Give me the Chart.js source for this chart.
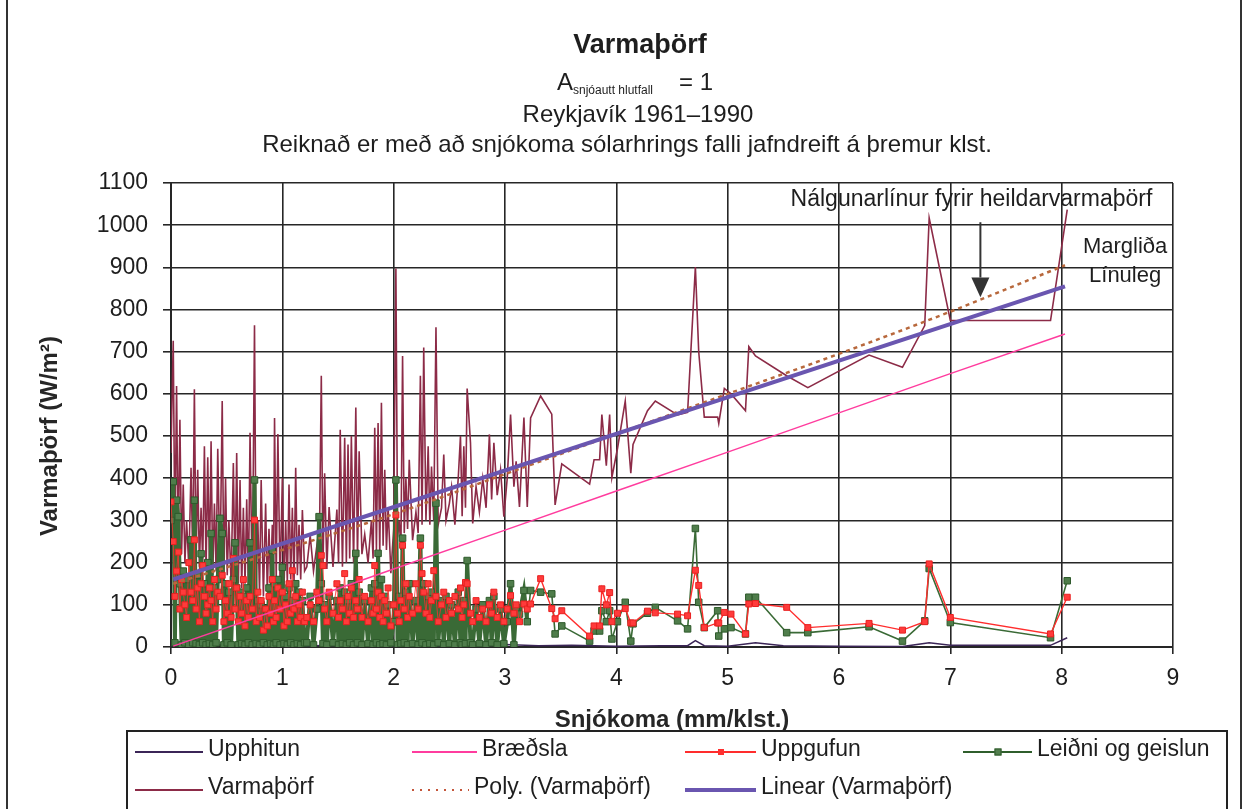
<!DOCTYPE html>
<html lang="is">
<head>
<meta charset="utf-8">
<title>Varmaþörf</title>
<script src="https://cdn.jsdelivr.net/npm/chart.js@4.4.1/dist/chart.umd.min.js"></script>
<style>
  html, body { margin: 0; padding: 0; background: #fff; }
  body {
    width: 1246px; height: 809px; position: relative; overflow: hidden;
    font-family: "Liberation Sans", Arial, sans-serif; color: #1e1e1e;
  }
  #frame {
    position: absolute; left: 6px; top: -10px; width: 1232px; height: 840px;
    border-left: 2px solid #333; border-right: 2px solid #333;
  }
  canvas { position: absolute; left: 0; top: 0; }
  .t { position: absolute; white-space: nowrap; line-height: 1; transform: translateX(-50%); }
  #title { top: 31px; left: 640px; font-size: 27px; font-weight: bold; }
  #sub1 { top: 70px; left: 635px; font-size: 24px; }
  #sub1 sub { font-size: 12px; vertical-align: -4px; margin-right: 26px; }
  #sub2 { top: 102px; left: 638px; font-size: 24px; }
  #sub3 { top: 132px; left: 627px; font-size: 24px; }

  #legend {
    position: absolute; left: 126px; top: 730px; width: 1098px; height: 100px;
    border: 2px solid #222;
  }
  .li { position: absolute; height: 24px; display: flex; align-items: center; font-size: 23px; line-height: 24px; white-space: nowrap; }
  .sw { position: relative; display: inline-block; height: 2px; margin-right: 5px; top: 4px; }
  .mk { position: absolute; left: 50%; top: 50%; width: 6px; height: 6px; transform: translate(-50%, -50%); }
</style>
</head>
<body>
<div id="frame"></div>
<canvas id="chart" width="1246" height="809" style="width:1246px;height:809px"></canvas>

<div class="t" id="title">Varmaþörf</div>
<div class="t" id="sub1">A<sub>snjóautt hlutfall</sub>= 1</div>
<div class="t" id="sub2">Reykjavík 1961–1990</div>
<div class="t" id="sub3">Reiknað er með að snjókoma sólarhrings falli jafndreift á þremur klst.</div>

<div id="legend">
  <div class="li" style="left:7px;top:4px"><span class="sw" style="width:68px;background:#3b2557"></span>Upphitun</div>
  <div class="li" style="left:284px;top:4px"><span class="sw" style="width:65px;background:#ff3c9e"></span>Bræðsla</div>
  <div class="li" style="left:557px;top:4px"><span class="sw" style="width:71px;background:#ff2d2d"><span class="mk" style="background:#ff3030"></span></span>Uppgufun</div>
  <div class="li" style="left:835px;top:4px"><span class="sw" style="width:69px;background:#2f5e2c"><span class="mk" style="background:#527f4e;border:1px solid #2e5a2b;width:5px;height:5px"></span></span>Leiðni og geislun</div>
  <div class="li" style="left:7px;top:42px"><span class="sw" style="width:68px;background:#8c2b47"></span>Varmaþörf</div>
  <div class="li" style="left:284px;top:42px"><span class="sw" style="width:57px;background:repeating-linear-gradient(to right,#c4553a 0 2px,transparent 2px 8px)"></span>Poly. (Varmaþörf)</div>
  <div class="li" style="left:557px;top:42px"><span class="sw" style="width:71px;height:4px;background:#6a56b0"></span>Linear (Varmaþörf)</div>
</div>

<script>
// snowfall rate (mm/klst.) shared by Varmaþörf, Uppgufun and Leiðni og geislun
const snow = [
  // 0 - 1.2
  0.00, 0.02, 0.035, 0.05, 0.065, 0.08, 0.095, 0.11, 0.125, 0.14,
  0.16, 0.18, 0.195, 0.21, 0.225, 0.24, 0.255, 0.27, 0.285, 0.30,
  0.315, 0.33, 0.345, 0.36, 0.375, 0.39, 0.405, 0.42, 0.44, 0.46,
  0.475, 0.49, 0.505, 0.52, 0.54, 0.56, 0.575, 0.59, 0.605, 0.62,
  0.635, 0.65, 0.665, 0.68, 0.695, 0.71, 0.73, 0.75, 0.765, 0.78,
  0.795, 0.81, 0.83, 0.85, 0.865, 0.88, 0.895, 0.91, 0.92, 0.93,
  0.945, 0.96, 0.98, 1.00, 1.015, 1.03, 1.045, 1.06, 1.075, 1.09,
  1.105, 1.12, 1.135, 1.15, 1.165, 1.18, 1.20,
  // 1.2 - 3.2
  1.22, 1.25, 1.28, 1.31, 1.33, 1.35, 1.365, 1.38, 1.40, 1.42,
  1.455, 1.49, 1.505, 1.52, 1.54, 1.56, 1.575, 1.59, 1.605, 1.62,
  1.64, 1.66, 1.675, 1.69, 1.715, 1.74, 1.77, 1.80, 1.815, 1.83,
  1.845, 1.86, 1.875, 1.89, 1.905, 1.92, 1.935, 1.95, 1.975, 2.00,
  2.02, 2.035, 2.05, 2.065, 2.08, 2.095, 2.11, 2.125, 2.14, 2.17,
  2.20, 2.22, 2.24, 2.255, 2.27, 2.29, 2.31, 2.325, 2.34, 2.36,
  2.38, 2.40, 2.43, 2.45, 2.47, 2.50, 2.52, 2.55, 2.58, 2.60,
  2.615, 2.63, 2.645, 2.66, 2.69, 2.71, 2.74, 2.77, 2.80, 2.83,
  2.86, 2.88, 2.90, 2.93, 2.96, 2.99, 3.02, 3.05, 3.08, 3.10,
  3.13, 3.17, 3.20,
  // 3.2 - 8
  3.23, 3.32, 3.42, 3.45, 3.51, 3.76, 3.80, 3.85, 3.87, 3.91,
  3.94, 3.96, 4.01, 4.08, 4.13, 4.15, 4.28, 4.35, 4.55, 4.64,
  4.71, 4.74, 4.79, 4.91, 4.92, 4.97, 5.03, 5.16, 5.19, 5.25,
  5.53, 5.72, 6.27, 6.57, 6.77, 6.81, 7.00, 7.90, 8.05
];

const varma = [
  460, 726, 250, 619, 230, 539, 220, 385, 200, 300,
  190, 425, 210, 611, 200, 420, 190, 330, 200, 476,
  180, 450, 190, 488, 170, 340, 180, 470, 175, 583,
  160, 400, 170, 300, 150, 436, 160, 460, 150, 396,
  140, 330, 150, 350, 140, 508, 130, 763, 150, 300,
  130, 396, 120, 340, 130, 280, 150, 290, 140, 543,
  160, 505, 150, 400, 140, 300, 150, 385, 160, 330,
  150, 425, 170, 290, 160, 325, 180,
  190, 265, 180, 240, 175, 643, 190, 412, 185, 332,
  190, 326, 200, 515, 190, 496, 200, 480, 210, 500,
  200, 568, 210, 464, 220, 267, 200, 300, 210, 520,
  230, 531, 220, 579, 240, 420, 230, 332, 175, 280,
  897, 260, 300, 230, 690, 270, 400, 280, 444, 253,
  320, 270, 643, 290, 710, 300, 476, 290, 428, 300,
  758, 290, 330, 456, 300, 340, 380, 290, 400, 500,
  310, 476, 330, 613, 484, 293, 380, 320, 400, 330,
  504, 350, 484, 360, 420, 309, 400, 551, 380, 440,
  332, 544, 332,
  543, 595, 552, 337, 434, 386, 444, 444, 551, 430,
  551, 402, 470, 583, 412, 480, 560, 583, 550, 556,
  901, 700, 545, 545, 530, 613, 600, 560, 712, 690,
  643, 615, 692, 663, 762, 1017, 774, 774, 1037
];

const leidni = [
  300, 392, 10, 348, 309, 150, 5, 180, 10, 160,
  5, 254, 10, 348, 8, 170, 5, 221, 10, 150,
  5, 200, 8, 269, 5, 140, 10, 160, 305, 269,
  5, 150, 10, 130, 5, 160, 247, 140, 5, 130,
  8, 120, 5, 140, 10, 247, 5, 396, 8, 110,
  5, 100, 10, 90, 5, 140, 8, 229, 5, 150,
  10, 160, 5, 189, 8, 120, 5, 140, 10, 110,
  5, 150, 8, 130, 5, 110, 10,
  10, 120, 5, 90, 309, 150, 8, 100, 5, 120,
  10, 110, 5, 140, 8, 130, 5, 110, 10, 150,
  5, 222, 10, 130, 5, 110, 8, 140, 5, 150,
  10, 222, 5, 160, 8, 120, 5, 100, 10, 60,
  396, 5, 120, 8, 258, 10, 130, 5, 150, 8,
  110, 5, 258, 10, 150, 5, 120, 8, 130, 5,
  341, 10, 110, 5, 120, 8, 100, 5, 130, 10,
  5, 110, 8, 205, 10, 5, 90, 8, 100, 5,
  110, 10, 120, 5, 90, 8, 60, 150, 5, 90,
  78, 134, 60,
  134, 130, 126, 31, 50, 14, 38, 38, 86, 60,
  86, 19, 60, 106, 14, 55, 80, 94, 62, 43,
  281, 106, 46, 86, 26, 43, 46, 31, 118, 118,
  34, 34, 48, 14, 62, 186, 58, 22, 157
];

const uppgufun = [
  344, 250, 120, 180, 225, 90, 160, 130, 100, 70,
  200, 130, 110, 254, 90, 140, 60, 150, 193, 120,
  80, 100, 140, 110, 60, 160, 90, 130, 120, 170,
  60, 110, 80, 150, 70, 210, 90, 140, 60, 120,
  80, 160, 50, 110, 70, 120, 90, 301, 60, 130,
  70, 110, 40, 90, 50, 120, 80, 160, 60, 110,
  70, 140, 90, 130, 50, 100, 60, 150, 80, 181,
  90, 120, 60, 100, 70, 130, 60,
  70, 100, 60, 130, 110, 217, 193, 90, 60, 130,
  80, 150, 70, 110, 90, 174, 60, 120, 80, 140,
  70, 110, 90, 160, 70, 120, 60, 110, 80, 193,
  90, 130, 70, 120, 60, 110, 80, 140, 50, 100,
  313, 80, 60, 110, 241, 90, 150, 70, 120, 80,
  150, 90, 241, 174, 130, 80, 150, 70, 110, 181,
  120, 60, 100, 130, 70, 110, 80, 120, 90, 140,
  70, 100, 153, 150, 80, 60, 110, 70, 90, 60,
  100, 80, 130, 70, 100, 60, 90, 122, 80, 100,
  60, 102, 90,
  102, 162, 91, 67, 86, 26, 50, 50, 138, 100,
  129, 60, 80, 91, 57, 57, 85, 81, 78, 74,
  182, 146, 46, 57, 57, 82, 78, 31, 102, 103,
  94, 46, 56, 40, 60, 197, 70, 31, 118
];

const upphitunX = [0, 0.05, 0.1, 0.2, 0.3, 0.45, 0.6, 0.75, 0.9, 1.05,
  1.2, 1.4, 1.6, 1.8, 2.0, 2.2, 2.4, 2.6, 2.8, 3.0,
  3.3, 3.6, 4.0, 4.4, 4.64, 4.71, 4.79, 5.0, 5.25, 5.5,
  6.0, 6.57, 6.81, 7.0, 7.9, 8.05];
const upphitun = [3, 8, 2, 6, 1, 5, 2, 7, 1, 6,
  2, 4, 1, 6, 2, 8, 3, 5, 2, 6,
  3, 4, 2, 3, 3, 15, 3, 2, 10, 3,
  2, 1, 10, 4, 4, 22];

const braedslaX = [0.02, 1, 2, 3, 4, 5, 6, 7, 8.03];
const braedsla = [2, 92, 185, 277, 370, 462, 555, 648, 742];

// trend lines for Varmaþörf
const polyX = [0.02, 1, 2, 3, 4, 5, 6, 7, 8.03];
const poly = [150, 230, 315, 410, 505, 600, 695, 795, 905];
const linearX = [0.02, 8.03];
const linear = [160, 855];

const FONT = '"Liberation Sans", Arial, sans-serif';
const INK = '#1e1e1e';
const GRID = '#262626';

const pts = (xs, ys) => xs.map((x, i) => ({ x: x, y: ys[i] }));

// the low-snow part of the record is so dense that Excel's markers merge into a solid band
const denseWidth = (w, thin) => (ctx) => (ctx.p0.parsed.x < 3.2 ? w : thin);

// annotation texts, arrow and the y axis title
const notes = {
  id: 'notes',
  afterDatasetsDraw(chart) {
    const { ctx, scales: { x, y } } = chart;
    ctx.save();
    ctx.fillStyle = INK;
    ctx.textAlign = 'center';
    ctx.textBaseline = 'middle';
    ctx.font = '23px ' + FONT;
    ctx.fillText('Nálgunarlínur fyrir heildarvarmaþörf', x.getPixelForValue(7.19), y.getPixelForValue(1060));
    ctx.font = '22px ' + FONT;
    ctx.fillText('Margliða', x.getPixelForValue(8.57), y.getPixelForValue(948));
    ctx.fillText('Línuleg', x.getPixelForValue(8.57), y.getPixelForValue(879));

    const ax = x.getPixelForValue(7.27);
    ctx.strokeStyle = '#333';
    ctx.fillStyle = '#333';
    ctx.lineWidth = 2;
    ctx.beginPath();
    ctx.moveTo(ax, y.getPixelForValue(1007));
    ctx.lineTo(ax, y.getPixelForValue(876));
    ctx.stroke();
    ctx.beginPath();
    ctx.moveTo(ax - 9, y.getPixelForValue(876));
    ctx.lineTo(ax + 9, y.getPixelForValue(876));
    ctx.lineTo(ax, y.getPixelForValue(829));
    ctx.closePath();
    ctx.fill();

    // y title sits a little below the middle of the axis in the original
    ctx.fillStyle = '#262626';
    ctx.font = 'bold 24px ' + FONT;
    ctx.translate(y.left + 18, y.getPixelForValue(500));
    ctx.rotate(-Math.PI / 2);
    ctx.fillText('Varmaþörf (W/m²)', 0, 0);
    ctx.restore();
  }
};

new Chart(document.getElementById('chart'), {
  type: 'line',
  data: {
    datasets: [
      {
        label: 'Linear (Varmaþörf)', data: pts(linearX, linear), order: 0,
        borderColor: '#6a56b0', borderWidth: 4, pointRadius: 0
      },
      {
        label: 'Poly. (Varmaþörf)', data: pts(polyX, poly), order: 1,
        borderColor: '#b8683c', borderWidth: 2.5, borderDash: [4, 4],
        cubicInterpolationMode: 'monotone', pointRadius: 0
      },
      {
        label: 'Bræðsla', data: pts(braedslaX, braedsla), order: 2,
        borderColor: '#ff3c9e', borderWidth: 1.5, pointRadius: 0
      },
      {
        label: 'Uppgufun', data: pts(snow, uppgufun), order: 3,
        borderColor: '#ff2d2d', borderWidth: 1.4,
        segment: { borderWidth: denseWidth(0.8, 1.4) },
        pointStyle: 'rect', pointRadius: 4.2,
        pointBackgroundColor: '#ff3b3b', pointBorderColor: '#e82020', pointBorderWidth: 1
      },
      {
        label: 'Leiðni og geislun', data: pts(snow, leidni), order: 4,
        borderColor: '#3a6a36', borderWidth: 1.6,
        segment: { borderWidth: denseWidth(4, 1.6) },
        pointStyle: 'rect', pointRadius: 4.6,
        pointBackgroundColor: '#4f7d4b', pointBorderColor: '#2e5a2b', pointBorderWidth: 1
      },
      {
        label: 'Upphitun', data: pts(upphitunX, upphitun), order: 5,
        borderColor: '#3b2557', borderWidth: 1.5, pointRadius: 0
      },
      {
        label: 'Varmaþörf', data: pts(snow, varma), order: 6,
        borderColor: '#8c2b47', borderWidth: 1.6, pointRadius: 0
      }
    ]
  },
  options: {
    responsive: false,
    animation: false,
    devicePixelRatio: 1,
    layout: { padding: { left: 32, top: 183, right: 73, bottom: 74 } },
    plugins: {
      legend: { display: false },
      tooltip: { enabled: false },
      title: { display: false }
    },
    elements: { line: { tension: 0 } },
    scales: {
      x: {
        type: 'linear', min: 0, max: 9,
        afterFit: (s) => { s.height = 88; },
        ticks: { stepSize: 1, color: INK, padding: 11, font: { size: 23, family: FONT } },
        grid: { color: GRID, lineWidth: 1.6, tickLength: 7, tickColor: GRID },
        border: { color: GRID, width: 2 },
        title: {
          display: true, text: 'Snjókoma (mm/klst.)', color: '#262626',
          font: { size: 24, weight: 'bold', family: FONT }, padding: { top: 0, bottom: 0 }
        }
      },
      y: {
        type: 'linear', min: 0, max: 1100,
        afterFit: (s) => { s.width = 139; },
        ticks: {
          stepSize: 100, color: INK, padding: 15, font: { size: 23, family: FONT },
          callback: (v) => String(v)
        },
        grid: { color: GRID, lineWidth: 1.6, tickLength: 8, tickColor: GRID },
        border: { color: GRID, width: 2 },
        title: { display: false }
      }
    }
  },
  plugins: [notes]
});
</script>
</body>
</html>
